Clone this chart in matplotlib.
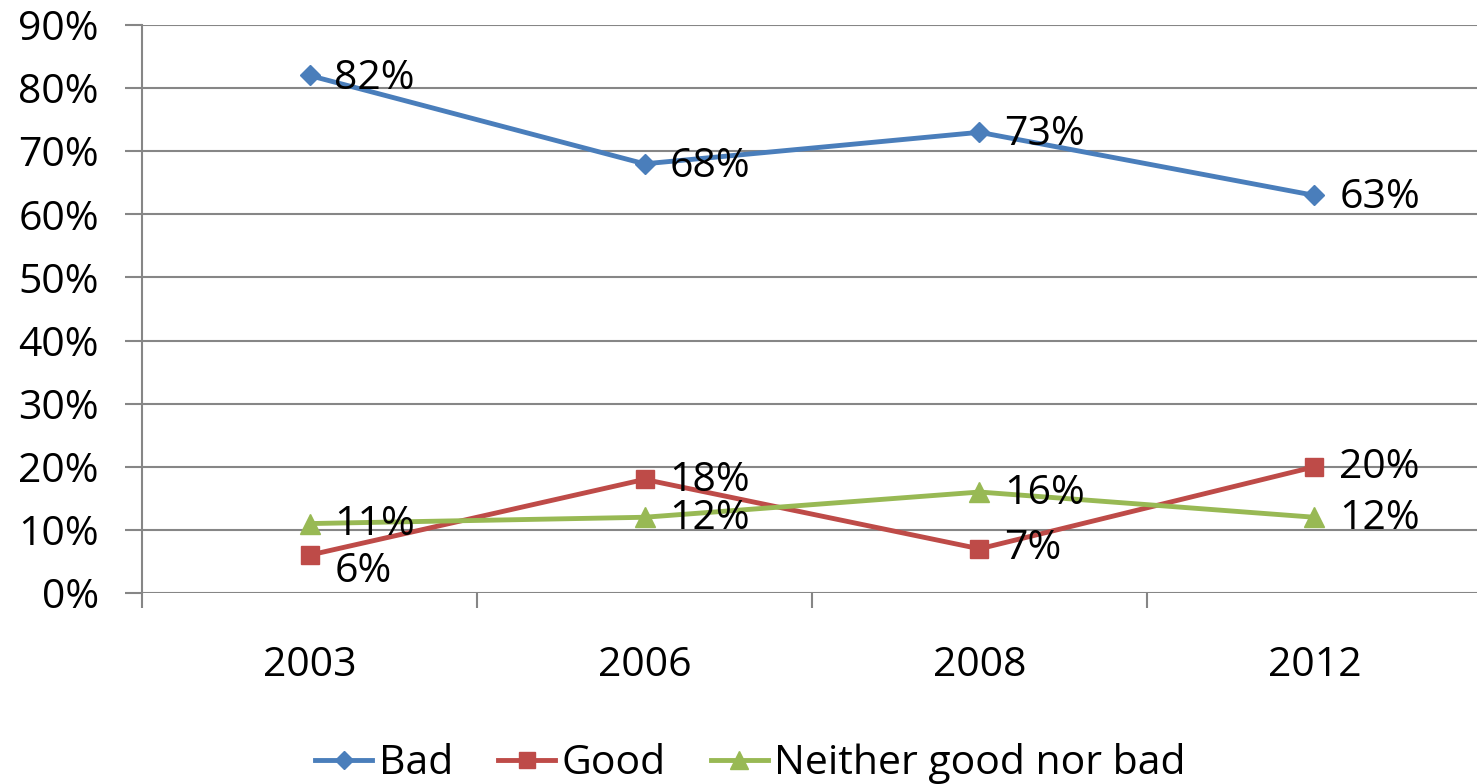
import matplotlib
matplotlib.use("Agg")
import matplotlib.pyplot as plt
from matplotlib.ticker import FixedLocator

years = ["2003", "2006", "2008", "2012"]
bad = [82, 68, 73, 63]
good = [6, 18, 7, 20]
neither = [11, 12, 16, 12]
yticks = [0, 10, 20, 30, 40, 50, 60, 70, 80, 90]

plt.rcParams['font.family'] = ['Open Sans', 'DejaVu Sans']
FS = 29.5

fig = plt.figure(figsize=(14.77, 7.84), dpi=100)
ax = fig.add_axes([142/1477, 1-593/784, 1340/1477, (593-25)/784])

x = list(range(len(years)))
c_bad, c_good, c_nei = "#4A7EBB", "#BE4B48", "#98B954"
ax.plot(x, bad, color=c_bad, lw=3.5, marker="D", ms=10, label="Bad", zorder=3)
ax.plot(x, good, color=c_good, lw=3.5, marker="s", ms=13, label="Good", zorder=3)
ax.plot(x, neither, color=c_nei, lw=3.5, marker="^", ms=14, label="Neither good nor bad", zorder=3)

# data labels (offsets in points)
def lab(xi, v, dy=0):
    ax.annotate(f"{v}%", (xi, v), xytext=(18, dy), textcoords="offset points",
                ha="left", va="center", fontsize=FS, zorder=4)

for i, v in enumerate(bad):
    lab(i, v, -2)
good_dy = [-12, -1, 0, -1]
for i, v in enumerate(good):
    lab(i, v, good_dy[i])
nei_dy = [-1, -1, -1, -1]
for i, v in enumerate(neither):
    lab(i, v, nei_dy[i])

ax.set_xlim(-0.5, len(years) - 0.5)
ax.set_ylim(0, 90)
ax.yaxis.set_major_locator(FixedLocator(yticks))
ax.set_yticklabels([f"{t}%" for t in yticks], fontsize=FS)
ax.set_xticks(x)
ax.set_xticklabels(years, fontsize=FS)
ax.xaxis.set_minor_locator(FixedLocator([i - 0.5 for i in range(len(years) + 1)]))
ax.tick_params(axis="x", which="major", length=0, pad=38)
ax.tick_params(axis="x", which="minor", length=11, width=1.5, color="#868686")
ax.tick_params(axis="y", length=12, width=1.5, color="#868686", pad=19)

ax.grid(axis="y", color="#868686", lw=1.5)
ax.set_axisbelow(True)
for s in ["top", "right", "bottom"]:
    ax.spines[s].set_visible(False)
ax.spines["left"].set_color("#868686")
ax.spines["left"].set_linewidth(1.5)

leg = fig.legend(loc="center", bbox_to_anchor=(0.508, 1-764/784), ncol=3, frameon=False,
                 fontsize=FS, handlelength=1.4, handletextpad=0.15, columnspacing=1.1,
                 markerscale=0.9)
fig.savefig("out.png", dpi=100)
